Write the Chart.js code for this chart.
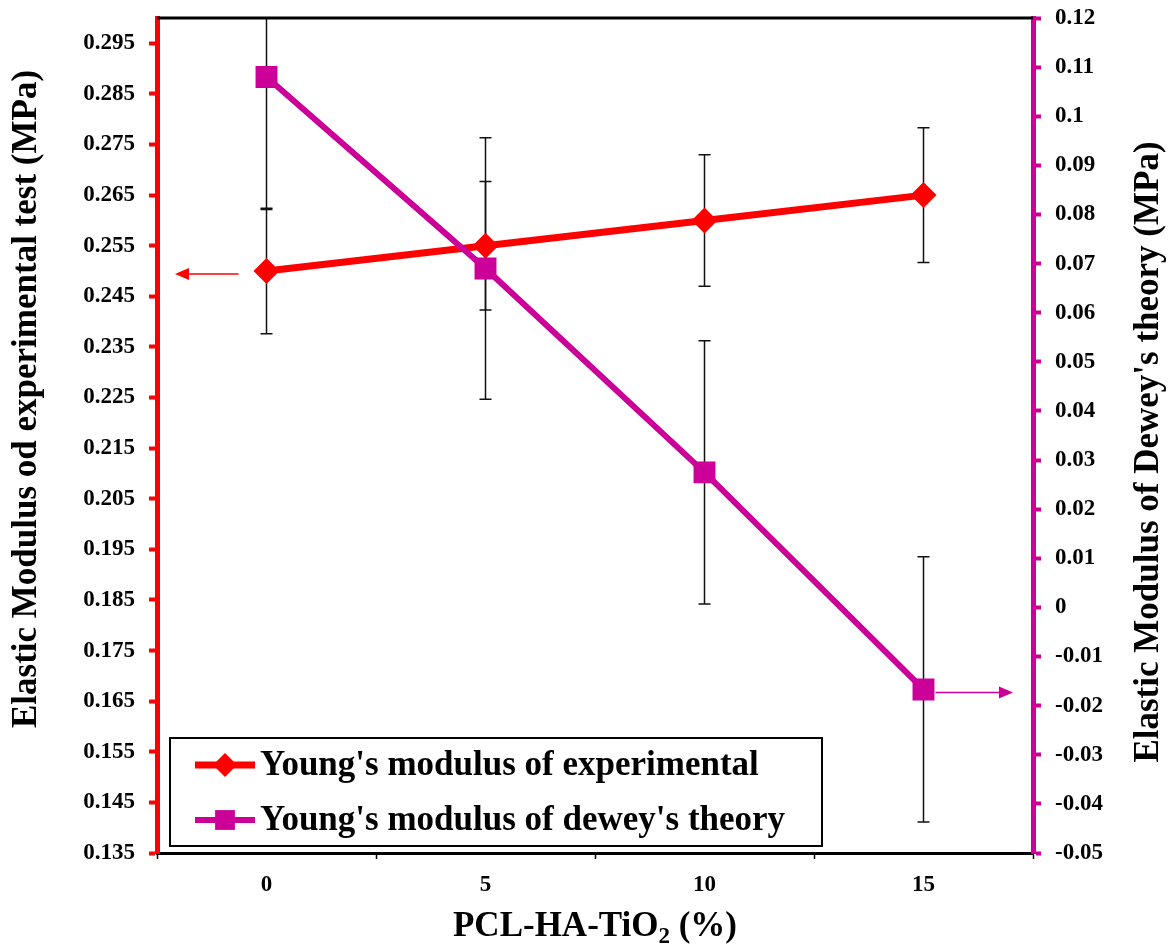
<!DOCTYPE html>
<html>
<head>
<meta charset="utf-8">
<script src="https://cdn.jsdelivr.net/npm/chart.js"></script>
<style>
    body { margin: 0; background: #fff; }
    #chartDiv { width: 1170px; height: 949px; }
</style>
</head>
<body>
<div id="chartDiv"><canvas id="modulusChart"></canvas></div>
<script>
// data
const xLabels = ['0', '5', '10', '15'];
const expValues = [0.250, 0.255, 0.260, 0.265];
const expErrors = [0.0124, 0.0127, 0.0130, 0.0133];
const deweyValues = [0.108, 0.069, 0.0275, -0.0167];
const deweyErrors = [0.0270, 0.0266, 0.0268, 0.0270];
const leftTicks = ['0.135', '0.145', '0.155', '0.165', '0.175', '0.185', '0.195', '0.205',
    '0.215', '0.225', '0.235', '0.245', '0.255', '0.265', '0.275', '0.285', '0.295'];
const rightTicks = ['-0.05', '-0.04', '-0.03', '-0.02', '-0.01', '0', '0.01', '0.02', '0.03',
    '0.04', '0.05', '0.06', '0.07', '0.08', '0.09', '0.1', '0.11', '0.12'];

const RED = '#ff0000';
const MAGENTA = '#cc0099';
const SERIF = '"Liberation Serif", "Times New Roman", serif';
const tickFont = { family: SERIF, size: 23, weight: 'bold' };

function drawArrow(ctx, x1, x2, y, color) {
    // thin line ending in a triangle head at x2
    const dir = x2 > x1 ? 1 : -1;
    ctx.save();
    ctx.strokeStyle = color;
    ctx.fillStyle = color;
    ctx.lineWidth = 1.5;
    ctx.beginPath();
    ctx.moveTo(x1, y);
    ctx.lineTo(x2 - dir * 12, y);
    ctx.stroke();
    ctx.beginPath();
    ctx.moveTo(x2, y);
    ctx.lineTo(x2 - dir * 14, y - 6);
    ctx.lineTo(x2 - dir * 14, y + 6);
    ctx.closePath();
    ctx.fill();
    ctx.restore();
}

function noPad(s) {
    // keep the plot frame fixed, labels may hang over the edge
    s.paddingTop = 0;
    s.paddingBottom = 0;
}

const errorBars = {
    id: 'errorBars',
    beforeDatasetsDraw(chart) {
        const ctx = chart.ctx;
        const area = chart.chartArea;
        const x = chart.scales.x;
        ctx.save();
        ctx.beginPath();
        ctx.rect(area.left, area.top, area.right - area.left, area.bottom - area.top);
        ctx.clip();
        ctx.strokeStyle = '#111';
        ctx.lineWidth = 1.5;
        const sets = [[chart.scales.yL, expValues, expErrors], [chart.scales.yR, deweyValues, deweyErrors]];
        sets.forEach(([scale, vals, errs]) => {
            vals.forEach((v, i) => {
                const px = x.getPixelForValue(i);
                const top = scale.getPixelForValue(v + errs[i]);
                const bot = scale.getPixelForValue(v - errs[i]);
                ctx.beginPath();
                ctx.moveTo(px, top); ctx.lineTo(px, bot);
                ctx.moveTo(px - 6, top); ctx.lineTo(px + 6, top);
                ctx.moveTo(px - 6, bot); ctx.lineTo(px + 6, bot);
                ctx.stroke();
            });
        });
        ctx.restore();
    }
};

const decorations = {
    id: 'decorations',
    afterDraw(chart) {
        const ctx = chart.ctx;
        const area = chart.chartArea;
        const x = chart.scales.x;
        const yL = chart.scales.yL;
        const yR = chart.scales.yR;

        // top frame line
        ctx.save();
        ctx.strokeStyle = '#000';
        ctx.lineWidth = 3;
        ctx.beginPath();
        ctx.moveTo(area.left, area.top);
        ctx.lineTo(area.right, area.top);
        ctx.stroke();
        ctx.restore();

        // arrows pointing at each series' axis
        drawArrow(ctx, x.getPixelForValue(0) - 28, area.left + 18, yL.getPixelForValue(expValues[0]) + 3, RED);
        drawArrow(ctx, x.getPixelForValue(3) + 12, area.right - 20, yR.getPixelForValue(deweyValues[3]) + 3, MAGENTA);

        // legend box
        const lx = area.left + 13, ly = area.bottom - 115, lw = 652, lh = 108;
        ctx.save();
        ctx.fillStyle = '#fff';
        ctx.fillRect(lx, ly, lw, lh);
        ctx.strokeStyle = '#000';
        ctx.lineWidth = 2;
        ctx.strokeRect(lx, ly, lw, lh);
        const items = [
            ['Young\'s modulus of experimental', RED, 'rectRot', 12, 7],
            ['Young\'s modulus of dewey\'s theory', MAGENTA, 'rect', 14, 6]
        ];
        items.forEach((it, k) => {
            const cy = ly + 27 + k * 55;
            ctx.strokeStyle = it[1];
            ctx.lineWidth = it[4];
            ctx.beginPath();
            ctx.moveTo(lx + 25, cy);
            ctx.lineTo(lx + 85, cy);
            ctx.stroke();
            ctx.fillStyle = it[1];
            Chart.helpers.drawPoint(ctx, { pointStyle: it[2], radius: it[3], borderWidth: 0 }, lx + 55, cy);
            ctx.fillStyle = '#000';
            ctx.font = 'bold 35px ' + SERIF;
            ctx.textAlign = 'left';
            ctx.textBaseline = 'middle';
            ctx.fillText(it[0], lx + 90, cy + 1);
        });
        ctx.restore();

        // axis titles
        ctx.save();
        ctx.fillStyle = '#000';
        ctx.font = 'bold 35px ' + SERIF;
        ctx.textAlign = 'center';
        ctx.textBaseline = 'middle';
        ctx.translate(27, 399);
        ctx.rotate(-Math.PI / 2);
        ctx.fillText('Elastic Modulus od experimental test (MPa)', 0, 0);
        ctx.restore();

        ctx.save();
        ctx.fillStyle = '#000';
        ctx.font = 'bold 35px ' + SERIF;
        ctx.textAlign = 'center';
        ctx.textBaseline = 'middle';
        ctx.translate(1149, 452);
        ctx.rotate(-Math.PI / 2);
        ctx.fillText('Elastic Modulus of Dewey\'s theory (MPa)', 0, 0);
        ctx.restore();

        // x title with subscript
        ctx.save();
        ctx.fillStyle = '#000';
        ctx.textBaseline = 'alphabetic';
        ctx.textAlign = 'left';
        const big = 'bold 35px ' + SERIF, small = 'bold 23px ' + SERIF;
        ctx.font = big;
        const w1 = ctx.measureText('PCL-HA-TiO').width;
        const w3 = ctx.measureText(' (%)').width;
        ctx.font = small;
        const w2 = ctx.measureText('2').width;
        let sx = (area.left + area.right) / 2 - (w1 + w2 + w3) / 2;
        const base = 936;
        ctx.font = big;
        ctx.fillText('PCL-HA-TiO', sx, base);
        ctx.font = small;
        ctx.fillText('2', sx + w1, base + 7);
        ctx.font = big;
        ctx.fillText(' (%)', sx + w1 + w2, base);
        ctx.restore();
    }
};

const ctx = document.getElementById('modulusChart');

const modulusChart = new Chart(ctx, {
    type: 'line',
    data: {
        labels: xLabels,
        datasets: [
            {
                label: 'Young\'s modulus of experimental',
                data: expValues,
                yAxisID: 'yL',
                borderColor: RED,
                backgroundColor: RED,
                borderWidth: 7,
                pointStyle: 'rectRot',
                pointRadius: 13,
                pointBorderWidth: 0,
                order: 2
            },
            {
                label: 'Young\'s modulus of dewey\'s theory',
                data: deweyValues,
                yAxisID: 'yR',
                borderColor: MAGENTA,
                backgroundColor: MAGENTA,
                borderWidth: 6,
                pointStyle: 'rect',
                pointRadius: 15.5,
                pointBorderWidth: 0,
                order: 1
            }
        ]
    },
    options: {
        responsive: true,
        maintainAspectRatio: false,
        animation: false,
        layout: { padding: { top: 18, left: 0, right: 0, bottom: 0 } },
        plugins: {
            legend: { display: false },
            tooltip: { enabled: false }
        },
        scales: {
            x: {
                type: 'category',
                offset: true,
                grid: { offset: true, drawOnChartArea: false, tickLength: 6, tickColor: '#000', tickWidth: 1.5 },
                border: { color: '#000', width: 3 },
                ticks: { color: '#000', font: tickFont, padding: 12, maxRotation: 0 },
                afterFit: s => { s.height = 96; }
            },
            yL: {
                position: 'left',
                min: 0.135,
                max: 0.30,
                afterBuildTicks: s => { s.ticks = leftTicks.map(t => ({ value: parseFloat(t) })); },
                ticks: { color: '#000', font: tickFont, padding: 14, callback: (v, i) => leftTicks[i] },
                grid: { drawOnChartArea: false, tickLength: 8, tickColor: RED, tickWidth: 4 },
                border: { color: RED, width: 5 },
                afterFit: s => { s.width = 157; noPad(s); }
            },
            yR: {
                position: 'right',
                min: -0.05,
                max: 0.12,
                afterBuildTicks: s => { s.ticks = rightTicks.map(t => ({ value: parseFloat(t) })); },
                ticks: { color: '#000', font: tickFont, padding: 14, callback: (v, i) => rightTicks[i] },
                grid: { drawOnChartArea: false, tickLength: 8, tickColor: MAGENTA, tickWidth: 4 },
                border: { color: MAGENTA, width: 5 },
                afterFit: s => { s.width = 137; noPad(s); }
            }
        }
    },
    plugins: [errorBars, decorations]
});
</script>
</body>
</html>
